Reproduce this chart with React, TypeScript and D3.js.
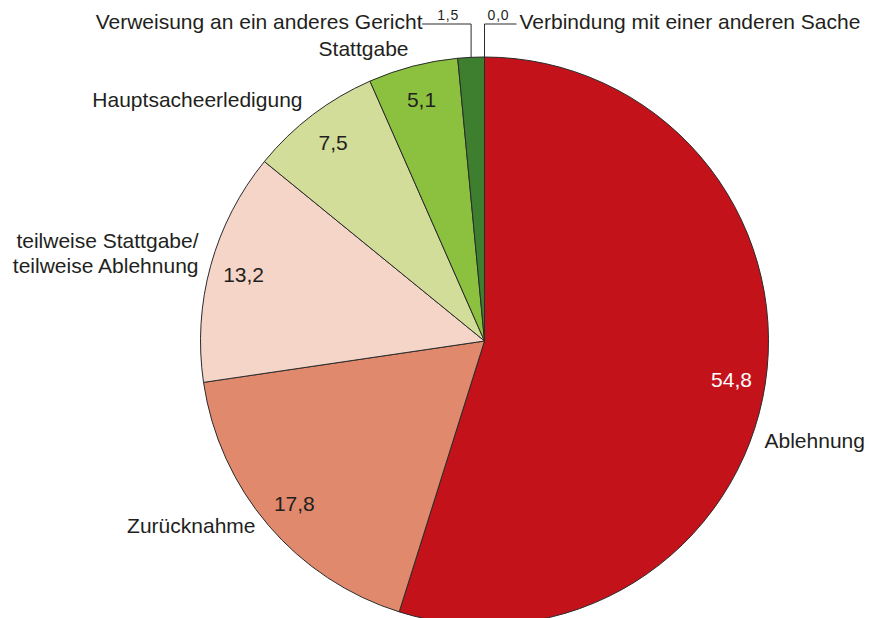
import * as d3 from 'd3'
import { useEffect } from 'react'

const categories = [
  'Ablehnung',
  'Zurücknahme',
  'teilweise Stattgabe/\nteilweise Ablehnung',
  'Hauptsacheerledigung',
  'Stattgabe',
  'Verweisung an ein anderes Gericht',
  'Verbindung mit einer anderen Sache',
]
const shares = [54.8, 17.8, 13.2, 7.5, 5.1, 1.5, 0.0]
const colors = ['#c4121a', '#e0896d', '#f6d5c9', '#d2dd99', '#8cc13f', '#3d7f2f', '#2f6a26']

// where the category names sit, relative to the pie centre
const nameLayout: { dx: number; dy: number; anchor: string }[] = [
  { dx: 280, dy: 107, anchor: 'start' },
  { dx: -229, dy: 192, anchor: 'end' },
  { dx: -286, dy: -93, anchor: 'end' },
  { dx: -182, dy: -234, anchor: 'end' },
  { dx: -76, dy: -285, anchor: 'end' },
  { dx: -62, dy: -312, anchor: 'end' },
  { dx: 35, dy: -312, anchor: 'start' },
]
// small slices get a leader line and a small value instead of an inside label
const leader = [false, false, false, false, false, true, true]

const W = 869
const H = 618
const cx = 484.5
const cy = 341
const R = 284
const FONT = '"Liberation Sans", Arial, Helvetica, sans-serif'
const fmt = (v: number) => d3.format('.1f')(v).replace('.', ',')

export default function App() {
  useEffect(() => {
    document.body.style.margin = '0'
  }, [])

  const pie = d3
    .pie<number>()
    .sort(null)
    .value((d) => d)
  const arcs = pie(shares)
  const arc = d3.arc<d3.PieArcDatum<number>>().innerRadius(0).outerRadius(R)
  const labelArc = d3.arc<d3.PieArcDatum<number>>().innerRadius(R * 0.88).outerRadius(R * 0.88)
  const lineY = -317

  return (
    <svg width={W} height={H} style={{ display: 'block', fontFamily: FONT }}>
      <g transform={`translate(${cx},${cy})`}>
        {arcs.map((a, i) => (
          <path key={i} d={arc(a) || ''} fill={colors[i]} stroke="#2b2b2b" strokeWidth={1} />
        ))}
        {arcs.map((a, i) => {
          if (leader[i]) return null
          const [x, y] = labelArc.centroid(a)
          return (
            <text
              key={'v' + i}
              x={x}
              y={y}
              dy="0.36em"
              textAnchor="middle"
              fontSize={21}
              fill={i === 0 ? '#ffffff' : '#231f20'}
            >
              {fmt(shares[i])}
            </text>
          )
        })}
        {arcs.map((a, i) => {
          if (!leader[i]) return null
          const mid = (a.startAngle + a.endAngle) / 2
          const x = R * Math.sin(mid)
          const y = -R * Math.cos(mid)
          const side = i === 5 ? -1 : 1
          const len = i === 5 ? 49 : 32
          return (
            <g key={'l' + i}>
              <path
                d={`M${x},${y}V${lineY}H${x + side * len}`}
                fill="none"
                stroke="#2b2b2b"
                strokeWidth={1}
              />
              <text x={x + (i === 5 ? -23 : 14)} y={lineY - 4} textAnchor="middle" fontSize={14} letterSpacing={0.8} fill="#231f20">
                {fmt(shares[i])}
              </text>
            </g>
          )
        })}
        {categories.map((c, i) => {
          const l = nameLayout[i]
          const lines = c.split('\n')
          return (
            <text key={'n' + i} x={l.dx} y={l.dy} textAnchor={l.anchor} fontSize={21} fill="#231f20">
              {lines.map((t, j) => (
                <tspan key={j} x={l.dx} dy={j === 0 ? 0 : 25}>
                  {t}
                </tspan>
              ))}
            </text>
          )
        })}
      </g>
    </svg>
  )
}
